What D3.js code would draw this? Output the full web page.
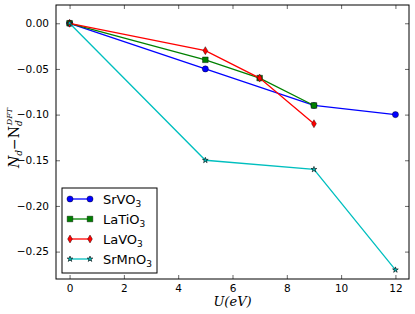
<!DOCTYPE html>
<html>
<head>
<meta charset="utf-8">
<script src="https://d3js.org/d3.v7.min.js"></script>
<style>
  body { margin: 0; background: #fff; }
  text { font-family: "DejaVu Sans", sans-serif; }
  .math { font-family: "DejaVu Serif", serif; font-style: italic; }
</style>
</head>
<body>
<div id="main"></div>
<script>
var xTicks = [0, 2, 4, 6, 8, 10, 12];
var yTicks = [0.00, -0.05, -0.10, -0.15, -0.20, -0.25];

var srvo3_u = [0, 5, 9, 12];
var srvo3_n = [0.00, -0.05, -0.09, -0.10];
var latio3_u = [0, 5, 7, 9];
var latio3_n = [0.00, -0.04, -0.06, -0.09];
var lavo3_u = [0, 5, 7, 9];
var lavo3_n = [0.00, -0.03, -0.06, -0.11];
var srmno3_u = [0, 5, 9, 12];
var srmno3_n = [0.00, -0.15, -0.16, -0.27];

var series = [
  { name: "SrVO", sub: "3", color: "#0000ff", marker: "circle", u: srvo3_u, n: srvo3_n },
  { name: "LaTiO", sub: "3", color: "#008000", marker: "square", u: latio3_u, n: latio3_n },
  { name: "LaVO", sub: "3", color: "#ff0000", marker: "thin_diamond", u: lavo3_u, n: lavo3_n },
  { name: "SrMnO", sub: "3", color: "#00bfbf", marker: "star", u: srmno3_u, n: srmno3_n }
];

var W = 415, H = 314;
var margin = { top: 5, right: 6, bottom: 35, left: 56 };
var width = W - margin.left - margin.right,
  height = H - margin.top - margin.bottom;

var svg = d3.select("#main").append("svg")
  .attr("width", W)
  .attr("height", H);

var g = svg.append("g")
  .attr("transform", "translate(" + margin.left + "," + margin.top + ")");

var x = d3.scaleLinear().domain([-0.5, 12.5]).range([0, width]);
var y = d3.scaleLinear().domain([-0.28, 0.02]).range([height, 0]);

// axes, ticks pointing inward on all four sides
g.append("g")
  .attr("transform", "translate(0," + height + ")")
  .call(d3.axisBottom(x).tickValues(xTicks).tickSizeInner(-4).tickSizeOuter(0).tickPadding(6).tickFormat(d3.format("d")));
g.append("g")
  .call(d3.axisTop(x).tickValues(xTicks).tickSizeInner(-4).tickSizeOuter(0).tickFormat(""));
g.append("g")
  .call(d3.axisLeft(y).tickValues(yTicks).tickSizeInner(-4).tickSizeOuter(0).tickPadding(7)
    .tickFormat(function (d) { return d3.format(".2f")(d).replace("-", "\u2212"); }));
g.append("g")
  .attr("transform", "translate(" + width + ",0)")
  .call(d3.axisRight(y).tickValues(yTicks).tickSizeInner(-4).tickSizeOuter(0).tickFormat(""));

g.selectAll(".domain").remove();
g.selectAll(".tick line").attr("stroke", "#000").attr("stroke-width", 0.6);
g.selectAll(".tick text").attr("font-size", 10.5).attr("fill", "#000").attr("font-family", "DejaVu Sans");

g.append("rect")
  .attr("width", width).attr("height", height)
  .attr("fill", "none").attr("stroke", "#000").attr("stroke-width", 1);

var line = d3.line()
  .x(function (d) { return x(d[0]); })
  .y(function (d) { return y(d[1]); });

function markerPath(type) {
  if (type === "circle") return d3.symbol().type(d3.symbolCircle).size(30)();
  if (type === "square") return d3.symbol().type(d3.symbolSquare).size(32)();
  if (type === "star") return d3.symbol().type(d3.symbolStar).size(10)();
  // thin diamond
  return "M0,-4L2.4,0L0,4L-2.4,0Z";
}

series.forEach(function (s) {
  var pts = s.u.map(function (u, i) { return [u, s.n[i]]; });
  g.append("path")
    .datum(pts)
    .attr("fill", "none")
    .attr("stroke", s.color)
    .attr("stroke-width", 1.3)
    .attr("d", line);
  g.selectAll(null)
    .data(pts)
    .enter().append("path")
    .attr("transform", function (d) { return "translate(" + x(d[0]) + "," + y(d[1]) + ")"; })
    .attr("d", markerPath(s.marker))
    .attr("fill", s.color)
    .attr("stroke", "#000")
    .attr("stroke-width", s.marker === "star" ? 0.6 : 0.4);
});

// legend
var lg = g.append("g").attr("transform", "translate(6,183)");
lg.append("rect")
  .attr("width", 95).attr("height", 85)
  .attr("fill", "#fff").attr("stroke", "#000").attr("stroke-width", 1);

series.forEach(function (s, i) {
  var yy = 11 + i * 20;
  var row = lg.append("g").attr("transform", "translate(0," + yy + ")");
  row.append("line")
    .attr("x1", 8).attr("x2", 28)
    .attr("stroke", s.color).attr("stroke-width", 1.3);
  [8, 28].forEach(function (mx) {
    row.append("path")
      .attr("transform", "translate(" + mx + ",0)")
      .attr("d", markerPath(s.marker))
      .attr("fill", s.color)
      .attr("stroke", "#000")
      .attr("stroke-width", s.marker === "star" ? 0.6 : 0.4);
  });
  var t = row.append("text")
    .attr("x", 41).attr("y", 5)
    .attr("font-size", 13)
    .attr("fill", "#000");
  t.append("tspan").text(s.name);
  t.append("tspan").attr("font-size", 9).attr("dy", 3).text(s.sub);
});

// axis labels
svg.append("text")
  .attr("class", "math")
  .attr("x", margin.left + x(6))
  .attr("y", 306)
  .attr("text-anchor", "middle")
  .attr("font-size", 13)
  .text("U(eV)");

var yl = svg.append("text")
  .attr("class", "math")
  .attr("transform", "translate(19," + (margin.top + height / 2 - 4) + ") rotate(-90)")
  .attr("text-anchor", "middle")
  .attr("font-size", 14);
yl.append("tspan").text("N");
yl.append("tspan").attr("font-size", 9).attr("dy", 3).text("d");
yl.append("tspan").attr("dy", -3).attr("font-style", "normal").text("\u2212N");
yl.append("tspan").attr("font-size", 9).attr("dy", 3).text("d");
yl.append("tspan").attr("font-size", 8).attr("dx", -5).attr("dy", -10).text("DFT");
</script>
</body>
</html>
